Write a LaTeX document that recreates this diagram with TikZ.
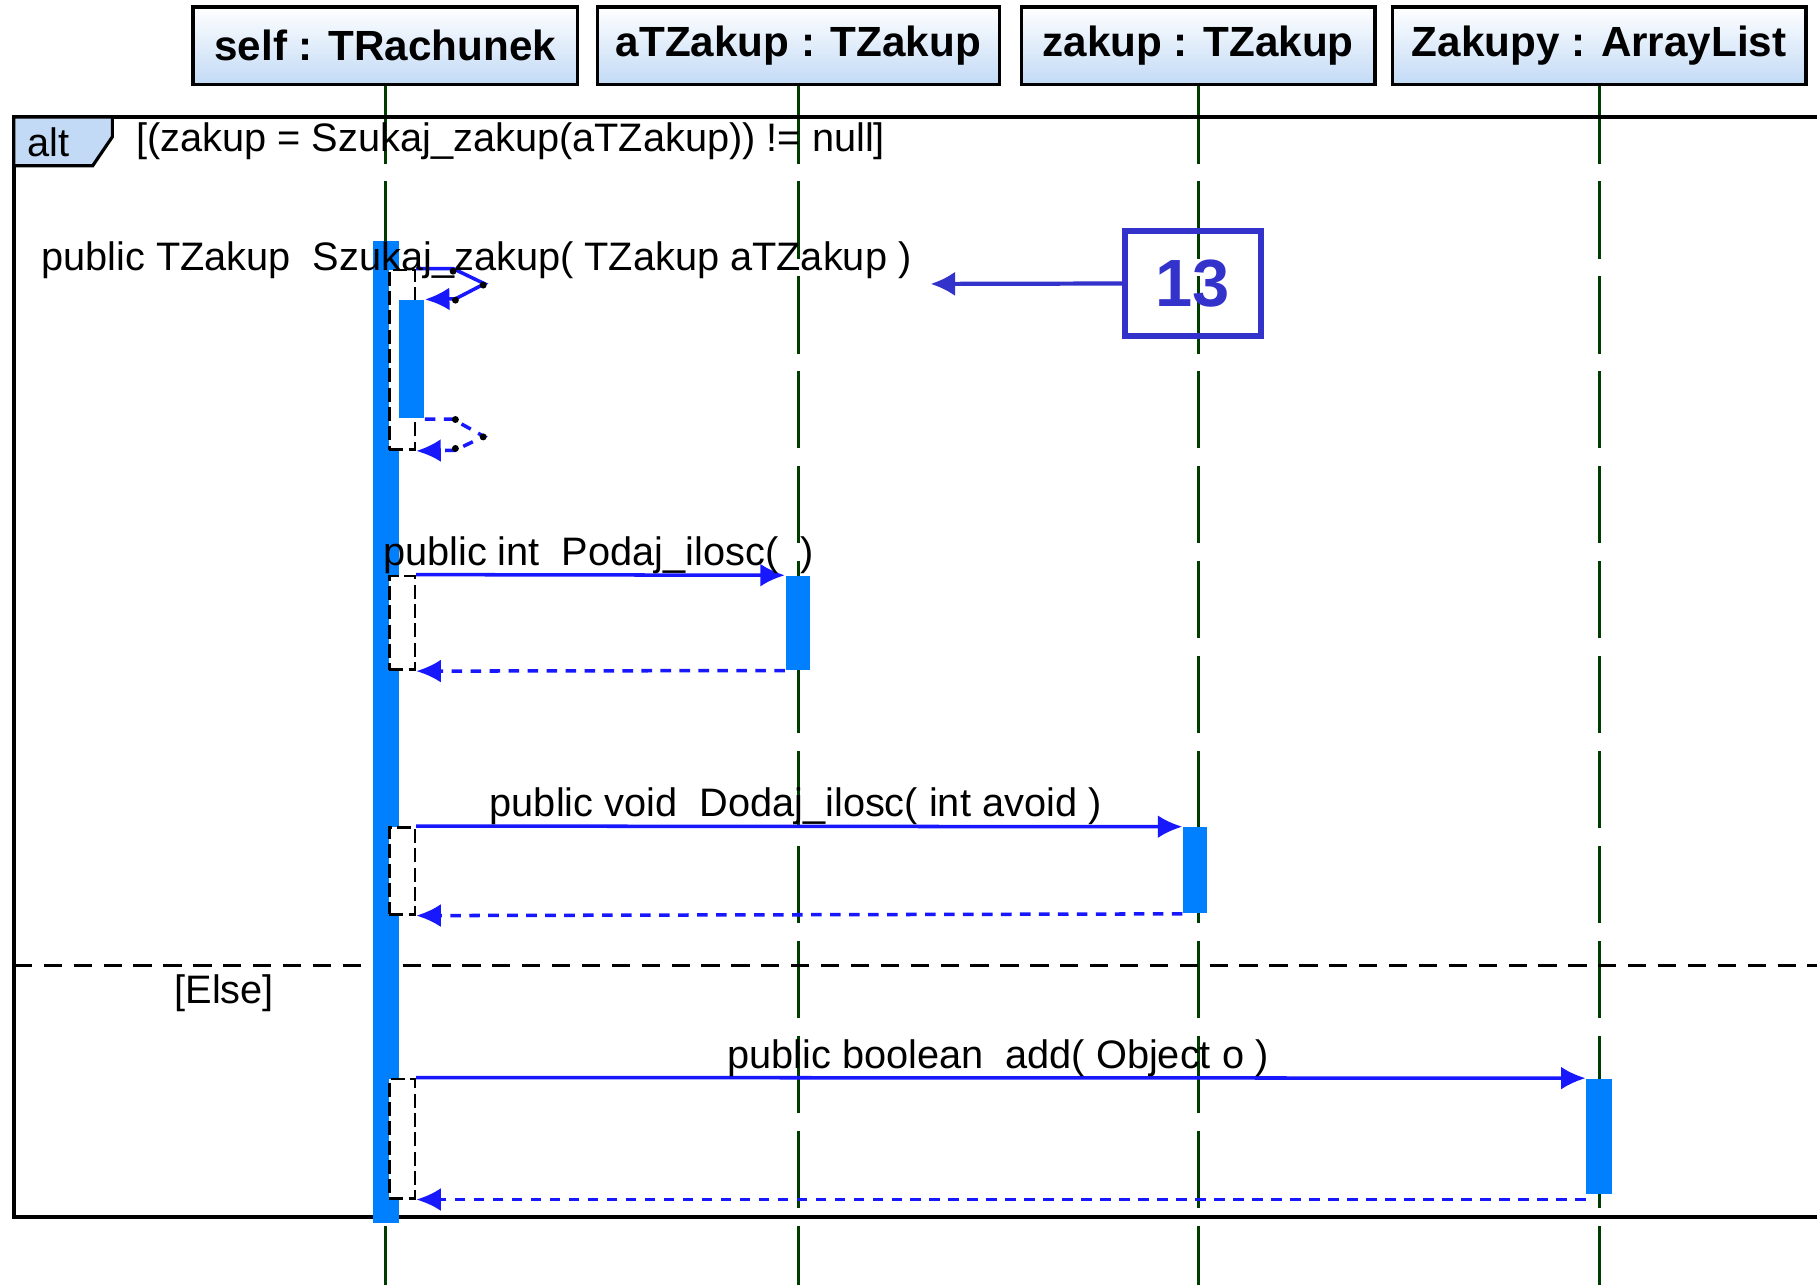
\documentclass[tikz,border=0pt]{standalone}
\usepackage{fontspec}
\setmainfont{Liberation Sans}
\usetikzlibrary{arrows.meta,positioning,fit}

\definecolor{headblue}{RGB}{194,218,246}
\definecolor{barblue}{RGB}{0,128,255}
\definecolor{msgblue}{RGB}{24,24,255}
\definecolor{lifegreen}{RGB}{0,60,0}
\definecolor{noteblue}{RGB}{51,51,204}

\begin{document}
\begin{tikzpicture}[
  x=0.011588cm, y=-0.011588cm,
  font=\fontsize{11.3}{13}\selectfont,
  head/.style={draw, line width=1pt, top color=white, bottom color=headblue,
    minimum height=22pt, inner sep=0pt, font=\bfseries\fontsize{12}{14}\selectfont},
  lifeline/.style={lifegreen, line width=0.8pt, dash pattern=on 22pt off 5pt},
  frame/.style={line width=1.1pt},
  sepline/.style={line width=0.75pt, dash pattern=on 5.2pt off 3.3pt},
  bar/.style={fill=barblue, inner sep=0pt},
  exec/.style={draw, fill=white, line width=0.75pt, dash pattern=on 4pt off 1.5pt, inner sep=0pt},
  call/.style={msgblue, line width=1pt, -{Latex[length=7pt,width=6.5pt]}},
  ret/.style={call, dash pattern=on 3pt off 2.4pt},
  txt/.style={anchor=base west, inner sep=0pt},
  handle/.style={fill=black},
  note/.style={draw=noteblue, line width=1.7pt, inner sep=0pt, text=noteblue,
    minimum width=38.4pt, minimum height=29.9pt,
    font=\bfseries\fontsize{19}{22}\selectfont},
  notelink/.style={noteblue, line width=1.2pt, -{Latex[length=7pt,width=7pt]}}
]
  \useasboundingbox (0,0) rectangle (1568,1109);
  \coordinate (bot) at (0,1109);

  % objects
  \node[head, minimum width=109.4pt] (h1) at (332.5,39.5) {self : TRachunek};
  \node[head, minimum width=114.3pt] (h2) at (689,39.5) {aTZakup : TZakup};
  \node[head, minimum width=100.5pt] (h3) at (1034,39.5) {zakup : TZakup};
  \node[head, minimum width=117.6pt] (h4) at (1380,39.5) {Zakupy : ArrayList};

  \foreach \h in {h1,h2,h3,h4}
    \draw[lifeline] (\h.south) -- (\h.south |- bot);

  % alt fragment
  \draw[frame] (12,101) rectangle (1600,1050);
  \draw[line width=0.9pt, fill=headblue] (12,101) -- (97,101) -- (97,118) -- (80,143) -- (12,143) -- cycle;
  \node[txt] (alt) at (23,135) {alt};
  \node[txt] (guard) at (117,131) {[(zakup = Szukaj\_zakup(aTZakup)) != null]};
  \draw[sepline] (12,833) -- (1600,833);
  \node[txt] (else) at (150,866) {[Else]};

  % activations
  \node[bar, fit={(322,208) (344,1055)}] (b0) {};
  \node[exec, fit={(336,233) (358,388)}] (x0) {};
  \node[bar, fit={(344,259) (366,361)}] (b1) {};
  \node[exec, fit={(336,497) (358,578)}] (x1) {};
  \node[bar, fit={(678,497) (699,578)}] (b2) {};
  \node[exec, fit={(336,714) (358,789)}] (x2) {};
  \node[bar, fit={(1021,714) (1042,788)}] (b3) {};
  \node[exec, fit={(336,931) (358,1034)}] (x3) {};
  \node[bar, fit={(1369,931) (1391,1030)}] (b4) {};

  % messages
  \draw[call] (x0.north east) -- ++(32,0) -- ++(27,13) -- ++(-25,13) -- (b1.north east);
  \draw[ret] (b1.south east) -- ++(24,0) -- ++(27,15) -- ++(-25,12) -- (x0.south east);
  \draw[call] (x1.north east) -- (b2.north west);
  \draw[ret] (b2.south west) -- (x1.south east);
  \draw[call] (x2.north east) -- (b3.north west);
  \draw[ret] (b3.south west) -- (x2.south east);
  \draw[call] (x3.north east) -- (b4.north west);
  \draw[ret] (b4.west |- x3.south) -- (x3.south east);

  \foreach \p in {(391,234),(417,246),(393,259),(393,362),(417,377),(393,387)}
    \fill[handle] \p circle (3);

  \node[txt] (m0) at (35,233) {public TZakup\ \ Szukaj\_zakup( TZakup aTZakup )};
  \node[txt] (m1) at (330,488) {public int\ \ Podaj\_ilosc(\ \ )};
  \node[txt] (m2) at (422,705) {public void\ \ Dodaj\_ilosc( int avoid )};
  \node[txt] (m3) at (627,922) {public boolean\ \ add( Object o )};

  % callout
  \node[note] (n13) at (1029.5,244.5) {13};
  \coordinate (t13) at (803,245);
  \draw[notelink] (n13) -- (t13);
\end{tikzpicture}
\end{document}
